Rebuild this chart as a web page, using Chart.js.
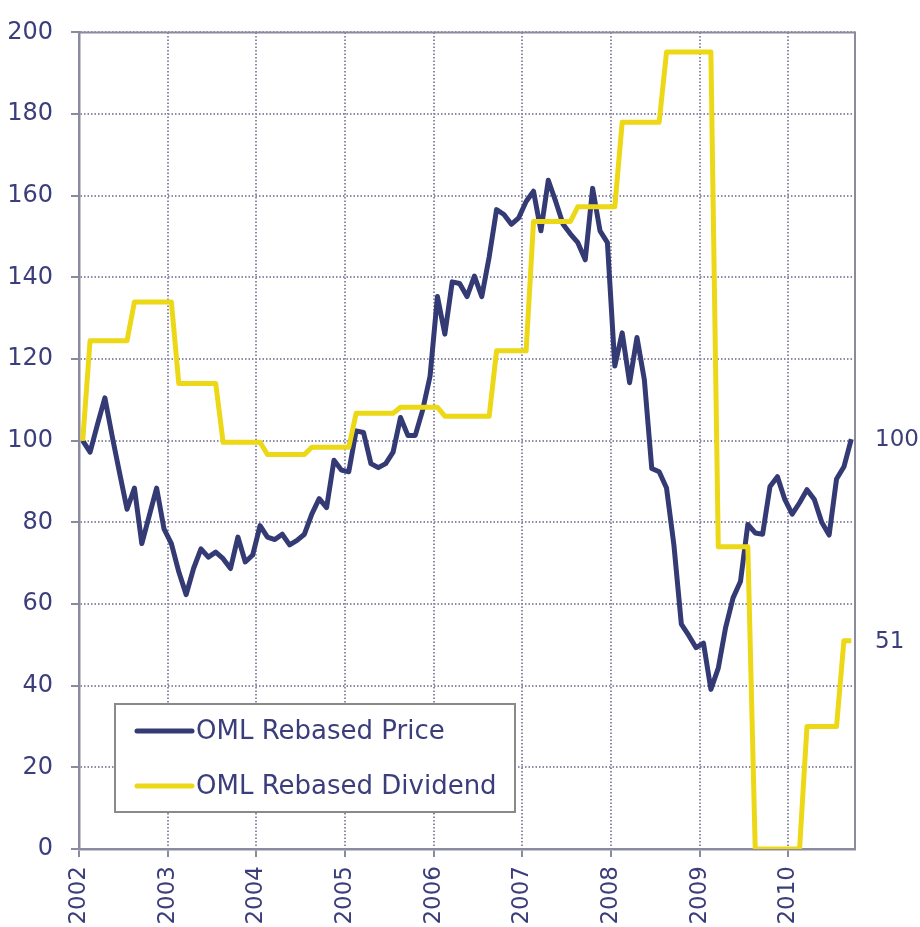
<!DOCTYPE html>
<html>
<head>
<meta charset="utf-8">
<script src="https://cdn.jsdelivr.net/npm/chart.js@4.4.0/dist/chart.umd.min.js"></script>
<style>
  html, body { margin: 0; padding: 0; background: #fff; }
</style>
</head>
<body>
<canvas id="chart" width="920" height="927"></canvas>
<script>
// year tick labels, one every 12 monthly points
const yearLabels = ['2002', '2003', '2004', '2005', '2006', '2007', '2008', '2009', '2010'];

// monthly values, Jan 2002 .. Sep 2010, rebased to 100
const price = [
  100, 97.2, 104, 110.5, 101, 92, 83.2, 88.4, 74.8, 81.6, 88.4, 78.4,
  74.8, 67.9, 62.3, 68.7, 73.5, 71.5, 72.7, 71.1, 68.7, 76.4, 70.3, 72,
  79.2, 76.4, 75.8, 77.1, 74.5, 75.6, 77.1, 82, 85.8, 83.6, 95.2, 92.8,
  92.4, 102.4, 102, 94.4, 93.4, 94.4, 97.2, 105.7, 101.3, 101.3, 107.5, 115.8,
  135.3, 126.1, 138.9, 138.5, 135.3, 140.3, 135.3, 145, 156.6, 155.4, 153, 154.6,
  158.6, 161.1, 151.4, 163.8, 158.6, 153, 150.6, 148.5, 144.3, 161.8, 151.4, 148.5,
  118.3, 126.4, 114.2, 125.3, 114.9, 93.2, 92.4, 88.4, 74.4, 55.1, 52.3, 49.3,
  50.4, 39.1, 44.3, 54.3, 61.5, 65.5, 79.5, 77.4, 77.1, 88.8, 91.2, 85.6,
  82, 84.8, 88, 85.6, 80, 76.9, 90.6, 93.6, 100.4
];

const dividend = [
  100, 124.5, 124.5, 124.5, 124.5, 124.5, 124.5, 134, 134, 134, 134, 134,
  134, 114, 114, 114, 114, 114, 114, 99.6, 99.6, 99.6, 99.6, 99.6,
  99.6, 96.6, 96.6, 96.6, 96.6, 96.6, 96.6, 98.4, 98.4, 98.4, 98.4, 98.4,
  98.4, 106.7, 106.7, 106.7, 106.7, 106.7, 106.7, 108.2, 108.2, 108.2, 108.2, 108.2,
  108.2, 106, 106, 106, 106, 106, 106, 106, 122, 122, 122, 122,
  122, 153.7, 153.7, 153.7, 153.7, 153.7, 153.7, 157.3, 157.3, 157.3, 157.3, 157.3,
  157.3, 178, 178, 178, 178, 178, 178, 195.2, 195.2, 195.2, 195.2, 195.2,
  195.2, 195.2, 74, 74, 74, 74, 74, 0, 0, 0, 0, 0,
  0, 0, 30, 30, 30, 30, 30, 51, 51
];

const seriesNames = ['OML Rebased Price', 'OML Rebased Dividend'];

const navy = '#343a74';
const yellow = '#ecd817';
const textColor = '#3b3e7a';
const axisColor = '#8b8ba0';
const gridColor = '#8c8ca8';
const FONT = '"DejaVu Sans", sans-serif';

// points sit mid-month
const toPoints = arr => arr.map((v, i) => ({ x: i + 0.5, y: v }));

const extras = {
  id: 'extras',
  beforeDatasetsDraw(chart) {
    const { ctx, chartArea: a } = chart;
    ctx.save();
    ctx.strokeStyle = axisColor;
    ctx.lineWidth = 2;
    ctx.beginPath();
    ctx.moveTo(a.left, a.top);
    ctx.lineTo(a.right, a.top);
    ctx.lineTo(a.right, a.bottom);
    ctx.stroke();
    ctx.restore();
  },
  afterDatasetsDraw(chart) {
    const { ctx, chartArea: a } = chart;
    const y = chart.scales.y;
    ctx.save();

    // end value labels
    ctx.font = '23px ' + FONT;
    ctx.fillStyle = textColor;
    ctx.textAlign = 'left';
    ctx.textBaseline = 'middle';
    chart.data.datasets.forEach(ds => {
      const last = ds.data[ds.data.length - 1].y;
      ctx.fillText(String(Math.round(last)), a.right + 20, y.getPixelForValue(last) + 1);
    });

    // legend box
    const bx = a.left + 36, by = a.bottom - 145, bw = 400, bh = 108;
    ctx.fillStyle = '#fff';
    ctx.fillRect(bx, by, bw, bh);
    ctx.strokeStyle = '#8a8a8a';
    ctx.lineWidth = 2;
    ctx.strokeRect(bx, by, bw, bh);
    ctx.font = '26px ' + FONT;
    ctx.lineCap = 'round';
    chart.data.datasets.forEach((ds, i) => {
      const ly = by + 27 + i * 55;
      ctx.strokeStyle = ds.borderColor;
      ctx.lineWidth = 5;
      ctx.beginPath();
      ctx.moveTo(bx + 22, ly);
      ctx.lineTo(bx + 77, ly);
      ctx.stroke();
      ctx.fillStyle = textColor;
      ctx.fillText(ds.label, bx + 81, ly + 1);
    });
    ctx.restore();
  }
};

new Chart(document.getElementById('chart'), {
  type: 'line',
  data: {
    datasets: [
      {
        label: seriesNames[0],
        data: toPoints(price),
        borderColor: navy,
        borderWidth: 5,
        order: 1
      },
      {
        label: seriesNames[1],
        data: toPoints(dividend),
        borderColor: yellow,
        borderWidth: 5,
        order: 0
      }
    ]
  },
  options: {
    responsive: false,
    devicePixelRatio: 1,
    animation: false,
    layout: { padding: { top: 18, right: 65, bottom: 0, left: 0 } },
    elements: {
      point: { radius: 0 },
      line: { tension: 0, borderJoinStyle: 'round', borderCapStyle: 'butt' }
    },
    plugins: {
      legend: { display: false },
      tooltip: { enabled: false }
    },
    scales: {
      x: {
        type: 'linear',
        min: 0,
        max: 105,
        afterBuildTicks: s => { s.ticks = yearLabels.map((_, i) => ({ value: i * 12 })); },
        afterFit: s => { s.height = 78; },
        ticks: {
          autoSkip: false,
          minRotation: 90,
          maxRotation: 90,
          padding: 9,
          color: textColor,
          font: { family: FONT, size: 23 },
          callback: (v, i) => yearLabels[i]
        },
        grid: {
          color: gridColor,
          lineWidth: 2,
          tickLength: 8,
          tickColor: axisColor,
          tickWidth: 2
        },
        border: { color: axisColor, width: 2.5, dash: [1.5, 2] }
      },
      y: {
        min: 0,
        max: 200,
        afterFit: s => { s.width = 79; },
        ticks: {
          stepSize: 20,
          padding: 18,
          color: textColor,
          font: { family: FONT, size: 24 }
        },
        grid: {
          color: gridColor,
          lineWidth: 2,
          tickLength: 8,
          tickColor: axisColor,
          tickWidth: 2
        },
        border: { color: axisColor, width: 2.5, dash: [1.5, 2] }
      }
    }
  },
  plugins: [extras]
});
</script>
</body>
</html>
